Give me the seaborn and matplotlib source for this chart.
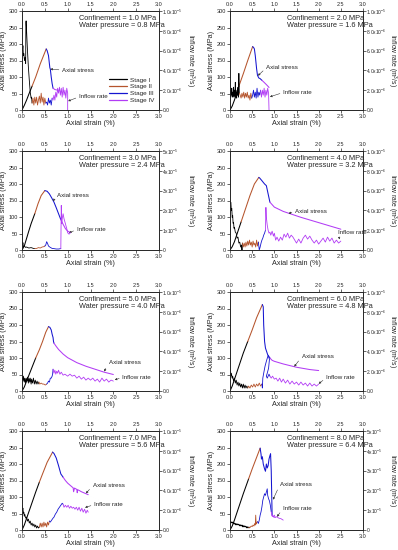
import matplotlib
matplotlib.use("Agg")
import matplotlib.pyplot as plt
from matplotlib.lines import Line2D
import seaborn as sns

sns.set_style("ticks")
plt.rcParams["font.family"] = ["Liberation Sans", "DejaVu Sans"]
plt.rcParams["mathtext.fontset"] = "custom"
plt.rcParams["mathtext.rm"] = "Liberation Sans"
plt.rcParams["mathtext.it"] = "Liberation Sans:italic"
plt.rcParams["mathtext.bf"] = "Liberation Sans:bold"

# ---------------- data ----------------
CONFINEMENT = [1.0, 2.0, 3.0, 4.0, 5.0, 6.0, 7.0, 8.0]      # MPa
WATER_PRESSURE = [0.8, 1.6, 2.4, 3.2, 4.0, 4.8, 5.6, 6.4]  # MPa
Q_MAX = [10, 10, 50, 10, 10, 10, 10, 50]                   # right-axis max, 1e-6 m3/s
STAGES = ["Stage I", "Stage II", "Stage III", "Stage IV"]

# Axial stress (MPa) vs axial strain (%)
S1_X = [0, 0.05, 0.1, 0.15, 0.22, 0.3, 0.4, 0.53, 0.55, 0.58, 0.6, 0.61, 0.62, 0.64, 0.66, 0.68, 0.72, 0.78]
S1_Y = [0, 14, 30, 48, 72, 100, 140, 185, 180, 165, 140, 128, 124, 100, 80, 66, 62, 60]
S1_B = [0.22, 0.53, 0.68]
S2_X = [0, 0.05, 0.1, 0.15, 0.2, 0.3, 0.4, 0.51, 0.53, 0.55, 0.57, 0.6, 0.62, 0.65, 0.68, 0.72, 0.76, 0.82, 0.87, 0.88]
S2_Y = [0, 12, 30, 50, 72, 110, 150, 192, 190, 185, 165, 125, 105, 97, 95, 90, 85, 77, 70, 68]
S2_B = [0.2, 0.51, 0.72]
S3_X = [0, 0.05, 0.1, 0.15, 0.2, 0.28, 0.35, 0.42, 0.5, 0.55, 0.6, 0.65, 0.7, 0.75, 0.8, 0.85, 0.9, 0.95, 1.0, 1.05]
S3_Y = [0, 12, 35, 58, 80, 110, 140, 165, 180, 178, 170, 158, 145, 128, 110, 92, 78, 65, 57, 54]
S3_B = [0.28, 0.5, 0.85]
S4_X = [0, 0.05, 0.1, 0.15, 0.2, 0.25, 0.35, 0.45, 0.55, 0.65, 0.67, 0.72, 0.78, 0.82, 0.86, 0.9, 1.0, 1.2, 1.4, 1.6, 1.8, 2.0, 2.2, 2.5]
S4_Y = [0, 10, 25, 45, 65, 85, 125, 165, 200, 220, 218, 210, 200, 195, 170, 145, 130, 117, 108, 99, 91, 83, 75, 63]
S4_B = [0.25, 0.65, 0.9]
S5_X = [0, 0.05, 0.1, 0.2, 0.3, 0.38, 0.45, 0.52, 0.58, 0.61, 0.64, 0.66, 0.68, 0.69, 0.7, 0.75, 0.8, 0.9, 1.0, 1.2, 1.4, 1.6, 1.8, 2.0]
S5_Y = [0, 12, 30, 65, 100, 125, 150, 178, 195, 193, 185, 172, 162, 150, 145, 135, 126, 112, 101, 86, 75, 66, 57, 50]
S5_B = [0.3, 0.58, 0.7]
S6_X = [0, 0.05, 0.1, 0.2, 0.3, 0.4, 0.5, 0.6, 0.73, 0.75, 0.76, 0.78, 0.8, 0.85, 0.9, 0.95, 1.0, 1.2, 1.5, 1.8, 2.0]
S6_Y = [0, 15, 35, 75, 115, 150, 185, 222, 262, 255, 200, 150, 130, 110, 100, 93, 90, 82, 72, 65, 62]
S6_B = [0.4, 0.73, 0.9]
S7_X = [0, 0.05, 0.1, 0.2, 0.3, 0.38, 0.45, 0.55, 0.67, 0.7, 0.75, 0.8, 0.85, 0.9, 0.95, 1.0, 1.05, 1.1, 1.12, 1.13, 1.15, 1.2, 1.21, 1.22, 1.25, 1.3, 1.35, 1.4, 1.45]
S7_Y = [0, 15, 35, 75, 115, 145, 170, 205, 236, 232, 218, 195, 170, 160, 150, 142, 136, 130, 128, 116, 127, 123, 113, 122, 120, 116, 113, 110, 107]
S7_B = [0.38, 0.67, 0.9]
S8_X = [0, 0.05, 0.1, 0.2, 0.3, 0.42, 0.5, 0.6, 0.68, 0.7, 0.71, 0.73, 0.75, 0.78, 0.8, 0.82, 0.84, 0.86, 0.88, 0.9, 0.915, 0.93, 0.95, 1.0]
S8_Y = [0, 12, 30, 70, 110, 155, 185, 220, 248, 230, 215, 222, 200, 185, 178, 200, 188, 195, 215, 225, 231, 180, 45, 38]
S8_B = [0.42, 0.68, 0.95]

# Inflow rate (1e-6 m3/s) vs axial strain (%)
Q1_X = [0.0, 0.01, 0.02, 0.03, 0.04, 0.05, 0.06, 0.07, 0.08, 0.085, 0.09, 0.1, 0.12, 0.14, 0.16, 0.18, 0.2, 0.21, 0.22,
        0.24, 0.26, 0.28, 0.3, 0.32, 0.34, 0.36, 0.38, 0.4, 0.42, 0.44, 0.46, 0.48, 0.5, 0.52,
        0.54, 0.56, 0.58, 0.6, 0.62, 0.64, 0.66,
        0.68, 0.7, 0.72, 0.74, 0.76, 0.78, 0.8, 0.82, 0.84, 0.86, 0.88, 0.9, 0.92, 0.94, 0.96, 0.98, 1.0, 1.0]
Q1_Y = [7.0, 6.0, 6.5, 5.5, 5.7, 5.2, 5.0, 5.3, 4.7, 8.8, 9.0, 8.0, 6.0, 4.3, 3.0, 1.8, 1.2, 1.3, 0.7,
        1.2, 0.5, 1.3, 0.7, 1.3, 0.5, 1.0, 1.4, 0.7, 1.7, 0.8, 1.3, 0.5, 1.2, 0.7,
        0.8, 0.5, 1.2, 0.7, 1.0, 0.5, 1.2,
        1.0, 1.5, 1.0, 1.8, 1.3, 2.2, 1.7, 2.3, 1.5, 2.2, 1.3, 2.3, 1.5, 2.0, 1.2, 2.2, 1.7, 0.0]
Q1_B = [0.22, 0.52, 0.66]
Q2_X = [0.0, 0.01, 0.02, 0.03, 0.04, 0.05, 0.06, 0.07, 0.08, 0.09, 0.1, 0.11, 0.12, 0.13, 0.14, 0.15, 0.16, 0.17, 0.18, 0.19, 0.2, 0.21,
        0.23, 0.25, 0.27, 0.29, 0.31, 0.33, 0.35, 0.37, 0.39, 0.41, 0.43, 0.45, 0.47, 0.49,
        0.51, 0.53, 0.55, 0.57, 0.59, 0.61, 0.63, 0.65, 0.67, 0.69,
        0.71, 0.73, 0.75, 0.77, 0.79, 0.81, 0.83, 0.85, 0.87, 0.88]
Q2_Y = [1.8, 1.3, 2.0, 1.5, 2.2, 1.3, 1.8, 1.5, 2.3, 1.3, 2.0, 1.5, 2.8, 1.3, 1.8, 1.2, 2.0, 1.5, 2.3, 1.3, 3.7, 1.7,
        1.5, 1.2, 1.7, 1.3, 1.8, 1.2, 1.7, 1.3, 1.8, 1.2, 1.5, 1.0, 1.7, 1.2,
        1.5, 2.0, 1.3, 1.8, 1.2, 2.2, 1.3, 1.8, 1.5, 2.0,
        1.3, 2.0, 1.5, 2.2, 1.3, 2.0, 1.5, 2.2, 1.7, 0.0]
Q2_B = [0.21, 0.49, 0.69]
Q3_X = [0.0, 0.01, 0.02, 0.03, 0.05, 0.08, 0.1, 0.15, 0.2, 0.25, 0.28,
        0.32, 0.36, 0.4, 0.44, 0.48, 0.5,
        0.52, 0.54, 0.56, 0.58, 0.62, 0.66, 0.7, 0.75, 0.8, 0.85,
        0.86, 0.87, 0.88, 0.9, 0.92, 0.95, 0.98, 1.0, 1.03, 1.06]
Q3_Y = [4.2, 2.5, 3.7, 1.7, 2.0, 1.3, 1.5, 1.0, 1.2, 0.8, 0.7,
        0.8, 1.2, 1.0, 1.5, 1.7, 2.0,
        2.5, 4.2, 3.3, 2.0, 1.3, 0.8, 0.7, 0.5, 0.5, 0.7,
        22.5, 13.3, 15.8, 18.3, 15.8, 13.3, 10.8, 8.7, 8.0, 8.7]
Q3_B = [0.28, 0.5, 0.85]
Q4_X = [0.0, 0.01, 0.02, 0.03, 0.04, 0.05, 0.06, 0.07, 0.08, 0.09, 0.1, 0.12, 0.14, 0.16, 0.18, 0.2, 0.22, 0.24, 0.26, 0.27, 0.28,
        0.3, 0.32, 0.34, 0.36, 0.38, 0.4, 0.42, 0.44, 0.46, 0.48, 0.5, 0.52, 0.54, 0.56, 0.58, 0.6, 0.62, 0.64,
        0.66, 0.68, 0.7, 0.72, 0.74, 0.76, 0.78, 0.8,
        0.81, 0.82, 0.84, 0.86, 0.88, 0.9, 0.92, 0.95, 0.98, 1.0, 1.03, 1.06, 1.1, 1.14, 1.18, 1.22, 1.26, 1.3, 1.34,
        1.38, 1.42, 1.46, 1.5, 1.55, 1.6, 1.65, 1.7, 1.75, 1.8, 1.85, 1.9, 1.95, 2.0, 2.05, 2.1, 2.15, 2.2, 2.25,
        2.3, 2.35, 2.4, 2.45, 2.5]
Q4_Y = [5.0, 4.7, 4.8, 4.0, 4.2, 3.3, 3.5, 2.7, 2.8, 2.2, 2.3, 1.8, 1.7, 1.2, 1.3, 0.7, 0.8, 0.3, 0.5, 0.0, 0.7,
        0.3, 0.7, 0.3, 0.8, 0.4, 0.9, 0.5, 1.0, 0.5, 0.8, 0.3, 0.9, 0.5, 0.7, 0.3, 1.0, 0.4, 0.8,
        0.0, 0.3, 0.7, 1.0, 1.2, 1.5, 1.7, 2.0,
        4.3, 3.3, 2.5, 2.0, 1.7, 1.8, 1.5, 1.9, 1.4, 1.7, 1.0, 1.3, 0.9, 1.3, 1.0, 1.6, 1.3, 1.7, 1.2,
        1.5, 1.3, 1.0, 0.7, 1.1, 0.7, 1.2, 1.5, 1.1, 1.4, 1.0, 0.7, 1.0, 0.6, 0.9, 1.2, 0.8, 1.3, 0.9,
        1.2, 0.7, 1.0, 0.7, 0.9]
Q4_B = [0.28, 0.64, 0.8]
Q5_X = [0.0, 0.02, 0.03, 0.05, 0.06, 0.08, 0.09, 0.11, 0.12, 0.14, 0.15, 0.17, 0.18, 0.2, 0.21, 0.23, 0.25, 0.27, 0.29, 0.31, 0.33, 0.35, 0.37,
        0.39, 0.42, 0.45, 0.48, 0.51, 0.54,
        0.56, 0.58, 0.6, 0.62, 0.64, 0.66, 0.67, 0.68,
        0.7, 0.72, 0.74, 0.76, 0.78, 0.8, 0.83, 0.86, 0.9, 0.94, 1.0, 1.05, 1.1, 1.15, 1.2, 1.25, 1.3, 1.35, 1.4,
        1.45, 1.5, 1.55, 1.6, 1.65, 1.7, 1.75, 1.8, 1.85, 1.9, 1.95, 2.0]
Q5_Y = [1.3, 1.0, 1.5, 0.9, 1.3, 0.8, 1.3, 1.0, 1.4, 0.8, 1.3, 0.9, 1.3, 0.7, 1.2, 0.8, 1.3, 0.7, 1.1, 0.7, 1.0, 0.7, 0.9,
        0.7, 0.8, 0.7, 0.7, 0.6, 0.7,
        0.8, 1.0, 0.9, 1.3, 1.3, 1.5, 1.7, 2.2,
        1.8, 2.1, 1.7, 2.0, 1.8, 2.1, 1.7, 1.9, 1.6, 1.7, 1.5, 1.7, 1.5, 1.6, 1.3, 1.5, 1.2, 1.4, 1.1,
        1.3, 1.1, 1.3, 1.0, 1.2, 0.9, 1.3, 1.0, 1.2, 0.9, 1.1, 1.0]
Q5_B = [0.37, 0.54, 0.68]
Q6_X = [0.0, 0.02, 0.03, 0.05, 0.06, 0.08, 0.1, 0.12, 0.14, 0.16, 0.18, 0.2, 0.22, 0.24, 0.26, 0.28, 0.3, 0.32, 0.34, 0.36, 0.38, 0.4,
        0.42, 0.45, 0.48, 0.51, 0.54, 0.57, 0.6, 0.63, 0.66, 0.69, 0.72,
        0.73, 0.74, 0.76, 0.79, 0.82, 0.86, 0.89, 0.87, 0.84, 0.82, 0.84, 0.88,
        0.9, 0.93, 0.96, 1.0, 1.04, 1.08, 1.12, 1.16, 1.2, 1.25, 1.3, 1.35, 1.4, 1.45, 1.5, 1.55, 1.6, 1.65,
        1.7, 1.75, 1.8, 1.85, 1.9, 1.95, 2.0]
Q6_Y = [2.0, 1.5, 1.8, 1.3, 1.5, 1.0, 1.3, 0.8, 1.1, 0.6, 0.9, 0.5, 0.8, 0.4, 0.7, 0.3, 0.7, 0.3, 0.6, 0.3, 0.5, 0.3,
        0.5, 0.3, 0.6, 0.4, 0.7, 0.4, 0.7, 0.5, 0.8, 0.5, 0.7,
        0.3, 1.3, 1.8, 2.5, 3.0, 3.6, 3.2, 2.3, 1.8, 1.5, 1.3, 1.7,
        1.5, 1.3, 1.5, 1.2, 1.3, 1.0, 1.3, 0.9, 1.2, 0.8, 1.1, 0.7, 1.0, 0.7, 0.9, 0.6, 0.9, 0.6,
        0.8, 0.5, 0.8, 0.5, 0.7, 0.5, 0.7]
Q6_B = [0.4, 0.72, 0.9]
Q7_X = [0.0, 0.01, 0.02, 0.03, 0.04, 0.05, 0.06, 0.08, 0.1, 0.12, 0.14, 0.16, 0.18, 0.2, 0.22, 0.24, 0.26, 0.28, 0.3, 0.32, 0.34, 0.36, 0.38,
        0.4, 0.42, 0.44, 0.46, 0.48, 0.5, 0.52, 0.54, 0.56, 0.58, 0.6,
        0.62, 0.65, 0.68, 0.7, 0.73, 0.76, 0.79, 0.82, 0.85, 0.88, 0.9,
        0.92, 0.95, 0.98, 1.01, 1.04, 1.07, 1.1, 1.13, 1.16, 1.19, 1.22, 1.25, 1.28, 1.31, 1.34, 1.37, 1.4, 1.43, 1.45]
Q7_Y = [2.5, 2.0, 2.2, 1.7, 1.8, 1.4, 1.6, 1.2, 1.3, 0.9, 1.1, 0.7, 0.9, 0.5, 0.7, 0.4, 0.6, 0.3, 0.5, 0.2, 0.4, 0.2, 0.3,
        0.7, 0.3, 0.7, 0.3, 0.8, 0.4, 0.7, 0.3, 0.8, 0.5, 0.9,
        0.8, 1.0, 1.2, 1.3, 1.6, 1.8, 2.1, 2.3, 2.5, 2.7, 2.6,
        2.3, 2.5, 2.3, 2.5, 2.2, 2.4, 2.2, 2.3, 2.1, 2.3, 2.0, 2.3, 1.9, 2.2, 1.8, 2.1, 1.7, 2.0, 1.8]
Q7_B = [0.38, 0.6, 0.9]
Q8_X = [0.0, 0.02, 0.04, 0.06, 0.08, 0.1, 0.12, 0.14, 0.16, 0.18, 0.2, 0.22, 0.24, 0.26, 0.28, 0.3, 0.32, 0.34, 0.36, 0.38, 0.4, 0.42,
        0.45, 0.48, 0.5, 0.52, 0.54, 0.56, 0.57, 0.58, 0.59, 0.6, 0.62,
        0.64, 0.66, 0.68, 0.7, 0.72, 0.74, 0.76, 0.78, 0.8, 0.82, 0.84, 0.85, 0.87, 0.89, 0.91, 0.93,
        0.95, 0.98, 1.0, 1.02, 1.05, 1.1, 1.15, 1.2]
Q8_Y = [4.2, 3.8, 4.0, 3.7, 3.5, 3.3, 3.2, 3.0, 3.0, 2.8, 2.7, 2.5, 2.5, 2.3, 2.2, 2.0, 2.0, 1.8, 1.7, 1.5, 1.5, 1.3,
        1.3, 2.0, 1.7, 2.5, 2.0, 3.3, 2.5, 7.5, 3.0, 3.7, 4.2,
        3.3, 5.0, 7.5, 9.2, 11.7, 15.0, 16.7, 18.3, 17.5, 19.2, 20.8, 17.5, 15.8, 14.7, 12.5, 9.2,
        7.0, 6.7, 7.5, 6.3, 6.7, 6.0, 5.7, 5.0]
Q8_B = [0.42, 0.62, 0.93]

STRESS = [(S1_X, S1_Y, S1_B), (S2_X, S2_Y, S2_B), (S3_X, S3_Y, S3_B), (S4_X, S4_Y, S4_B),
          (S5_X, S5_Y, S5_B), (S6_X, S6_Y, S6_B), (S7_X, S7_Y, S7_B), (S8_X, S8_Y, S8_B)]
INFLOW = [(Q1_X, Q1_Y, Q1_B), (Q2_X, Q2_Y, Q2_B), (Q3_X, Q3_Y, Q3_B), (Q4_X, Q4_Y, Q4_B),
          (Q5_X, Q5_Y, Q5_B), (Q6_X, Q6_Y, Q6_B), (Q7_X, Q7_Y, Q7_B), (Q8_X, Q8_Y, Q8_B)]

# annotation layout (text position, arrow target) in strain / stress coordinates
ANN_STRESS = [((0.88, 121), (0.62, 124)), ((0.82, 128), (0.63, 104)), ((0.76, 164), (0.68, 148)),
              ((1.47, 116), (1.32, 111)), ((1.9, 86), (1.8, 59)), ((1.62, 104), (1.45, 74)),
              ((1.55, 134), (1.4, 111)), ((1.13, 139), (0.97, 92))]
ANN_INFLOW = [((1.25, 40), (1.01, 27)), ((1.2, 53), (0.9, 40)), ((1.2, 62), (1.03, 52)),
              ((2.44, 53), (2.47, 32)), ((2.2, 41), (2.03, 34)), ((2.17, 40), (2.0, 22)),
              ((1.58, 77), (1.38, 68)), ((1.2, 66), (1.06, 40))]

# ---------------- style ----------------
COLORS = ["#000000", "#B5542C", "#1515D0", "#B23CF5"]
TICK_FS = 4.0
RTICK_FS = 3.5
LAB_FS = 5.2
RLAB_FS = 4.9
TXT_FS = 5.3
ANN_FS = 4.5

W, H = 398, 550
fig = plt.figure(figsize=(W / 100, H / 100), dpi=100)
col_x = [22 / W, 230 / W]
col_w = [(159 - 22) / W, (363 - 230) / W]
rlabel_x = [1.225, 1.213]
row_bottom_px = [110, 250, 391, 530]
ax_h = 99 / H


def stage_segments(xs, ys, bounds):
    starts = [0]
    for b in bounds:
        starts.append(next(i for i, v in enumerate(xs) if v >= b - 1e-9))
    segs = []
    for k in range(4):
        a = starts[k]
        e = starts[k + 1] + 1 if k < 3 else len(xs)
        segs.append((xs[a:e], ys[a:e]))
    return segs


def right_labels(qmax):
    if qmax == 10:
        return [0, 2, 4, 6, 8, 10], ["0.0", r"2.0x10$^{-6}$", r"4.0x10$^{-6}$", r"6.0x10$^{-6}$",
                                      r"8.0x10$^{-6}$", r"1.0x10$^{-5}$"]
    return [0, 10, 20, 30, 40, 50], ["0", r"1x10$^{-5}$", r"2x10$^{-5}$", r"3x10$^{-5}$",
                                      r"4x10$^{-5}$", r"5x10$^{-5}$"]


for p in range(8):
    r, c = divmod(p, 2)
    ax = fig.add_axes([col_x[c], 1 - row_bottom_px[r] / H, col_w[c], ax_h])
    ax2 = ax.twinx()

    sx, sy, sb = STRESS[p]
    for k, (xs, ys) in enumerate(stage_segments(sx, sy, sb)):
        sns.lineplot(x=xs, y=ys, ax=ax, color=COLORS[k], lw=0.75, sort=False, estimator=None)
    qx, qy, qb = INFLOW[p]
    for k, (xs, ys) in enumerate(stage_segments(qx, qy, qb)):
        kw = {}
        if p == 7 and k == 0:
            kw = dict(marker="o", markersize=1.0, markeredgewidth=0)
        sns.lineplot(x=xs, y=ys, ax=ax2, color=COLORS[k], lw=0.6, sort=False, estimator=None, **kw)

    ax.set_xlim(0, 3.0)
    ax.set_ylim(0, 300)
    ax.set_xticks([0, 0.5, 1.0, 1.5, 2.0, 2.5, 3.0])
    ax.set_xticklabels(["0.0", "0.5", "1.0", "1.5", "2.0", "2.5", "3.0"])
    ax.set_yticks(range(0, 301, 50))
    ax2.set_ylim(0, Q_MAX[p])
    t, lbl = right_labels(Q_MAX[p])
    ax2.set_yticks(t)
    ax2.set_yticklabels(lbl)

    ax.tick_params(axis="both", labelsize=TICK_FS, length=2, width=0.5, pad=1,
                   top=True, labeltop=True, direction="out")
    ax2.tick_params(axis="y", labelsize=RTICK_FS, length=2, width=0.5, pad=0.5, direction="out")
    for a in (ax, ax2):
        for s in a.spines.values():
            s.set_linewidth(0.6)
            s.set_visible(True)

    ax.set_xlabel("Axial strain (%)", fontsize=LAB_FS, labelpad=0.5)
    ax.set_ylabel("Axial stress (MPa)", fontsize=LAB_FS, labelpad=1)
    ax2.set_ylabel(r"Inflow rate (m$^3$/s)", fontsize=RLAB_FS, rotation=270, va="center", ha="center")
    ax2.yaxis.set_label_coords(rlabel_x[c], 0.5)

    tx = 0.415 if c == 0 else 0.43
    ax.text(tx, 0.925, f"Confinement = {CONFINEMENT[p]:.1f} MPa", transform=ax.transAxes,
            fontsize=TXT_FS, va="center", ha="left")
    ax.text(tx, 0.85, f"Water pressure = {WATER_PRESSURE[p]:.1f} MPa", transform=ax.transAxes,
            fontsize=TXT_FS, va="center", ha="left")

    for (txy, xy), label in ((ANN_STRESS[p], "Axial stress"), (ANN_INFLOW[p], "Inflow rate")):
        a = ax.annotate(label, xy=xy, xytext=txy, fontsize=ANN_FS, va="center", ha="left",
                        arrowprops=dict(arrowstyle="-|>", lw=0.4, color="#333333", mutation_scale=3,
                                        shrinkA=0, shrinkB=0, relpos=(0, 0.5)))
        a.set_clip_on(True)

    if p == 0:
        handles = [Line2D([0], [0], color=COLORS[k], lw=0.9) for k in range(4)]
        ax2.legend(handles, STAGES, loc="lower right", bbox_to_anchor=(1.0, 0.03), frameon=False,
                   fontsize=4.6, handlelength=2.8, handletextpad=0.5, labelspacing=0.2,
                   borderaxespad=0.25)

fig.savefig("out.png", dpi=100)
